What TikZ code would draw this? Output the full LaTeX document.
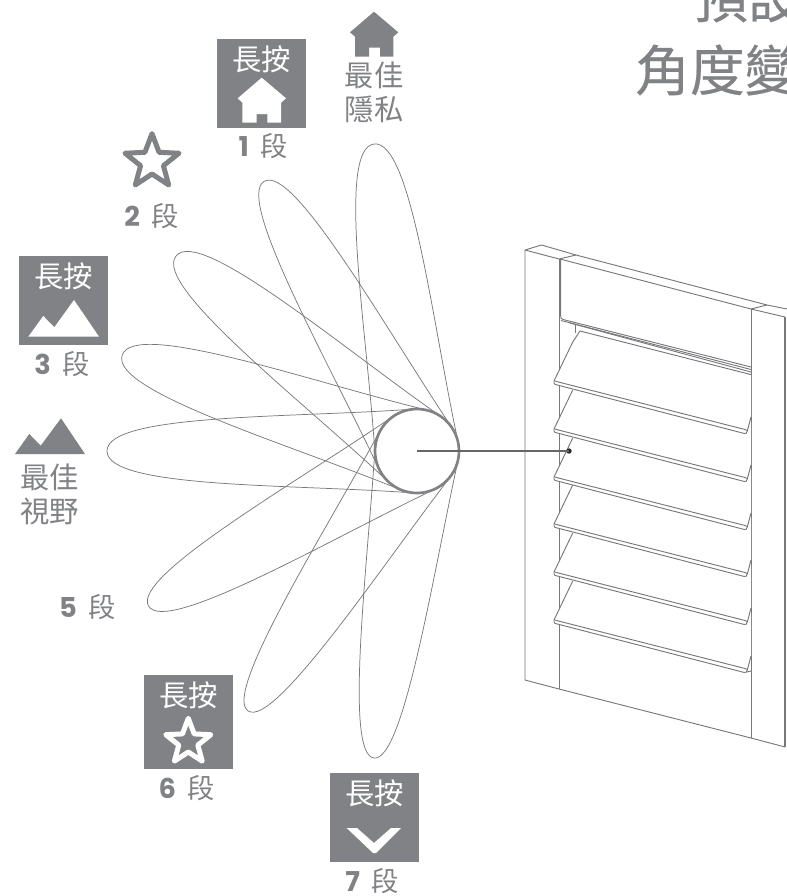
\documentclass[tikz,border=0pt]{standalone}
\usepackage{fontspec}
\setmainfont{Poppins}
\newfontfamily\cjk{Noto Sans CJK TC}
\newfontfamily\cjktitle[FakeBold=0.4]{Noto Sans CJK TC}
\definecolor{ink}{HTML}{808285}
\definecolor{wire}{HTML}{77787B}
\tikzset{
  x=0.75pt,y=-0.75pt,
  petal/.style={draw=wire,line width=0.55pt},
  frameline/.style={draw=wire,line width=0.7pt,line join=round},
  box/.style={fill=ink,draw=none},
  whiteicon/.style={fill=white,draw=none},
  grayicon/.style={fill=ink,draw=none},
  longtxt/.style={text=white,inner sep=0pt,font=\cjk\fontsize{22}{22}\selectfont},
  graytxt/.style={text=ink,inner sep=0pt,align=center,font=\cjk\fontsize{22}{25.5}\selectfont},
  segtxt/.style={text=ink,inner sep=0pt,anchor=base east,font=\fontsize{20.5}{20.5}\selectfont},
  titletxt/.style={text=ink,inner sep=0pt,anchor=west,font=\cjktitle\fontsize{41}{41}\selectfont}
}
\newcommand{\seglabel}[3]{\node[segtxt] (seg#1) at (#2,{#3+10}) {\textbf{#1}\hspace{0.42em}{\cjk\fontsize{20.5}{20.5}\selectfont 段}};}
\newcommand{\longbox}[5]{% name, x0, y0, x1, y1
  \fill[box] (#2,#3) rectangle (#4,#5);
  \node[longtxt] (#1) at ({(#2+#4)/2},{#3+20}) {長按};}
\newcommand{\louver}[1]{% y of left corner
  \fill[white] (554,#1) -- (580,{#1-50}) -- (751,{#1-6.4}) -- (751,{#1+36}) -- (747,{#1+51}) -- (744,{#1+52}) -- (555,{#1+3}) -- cycle;
  \draw[frameline] (572.7,{#1-39}) -- (554,#1) -- (554,{#1+2}) -- (555,{#1+3.4}) -- (744,{#1+52.4}) .. controls (746,{#1+53}) and (747,{#1+52}) .. (747.3,{#1+50}) -- (751,{#1+36});
  \draw[frameline] (554.5,#1) -- (745,{#1+48.5}) .. controls (746.5,{#1+49}) and (747.3,{#1+49.5}) .. (747.3,{#1+50});
}
\begin{document}
\begin{tikzpicture}
\useasboundingbox (0,0) rectangle (787,896);
\clip (0,0) rectangle (787,896);
% title
\node[titletxt] (t1) at (693,-3) {預設};
\node[titletxt] (t2) at (635,70) {角度變};
% petals
\foreach \a/\w in {82/38,60.5/34,39/38,18/38,0/38,-30/34,-57/31,-82/30}{
  \begin{scope}[shift={(417,451)},rotate=-\a]
    \draw[petal] (-3,-42) .. controls (-120,-33) and (-310,-\w) .. (-310,0)
                 .. controls (-310,\w) and (-120,33) .. (-3,42);
  \end{scope}
}
\node[circle,draw=ink,fill=white,line width=2pt,minimum size=63pt,inner sep=0pt] (hub) at (417,451) {};
% frame
\draw[frameline] (559,259) -- (525,250) -- (541.5,245) -- (576,255) -- (767,305) -- (787,309);
\draw[frameline] (525,250) -- (525,680) -- (559,689) -- (751,738) -- (785,747);
\draw[frameline] (559,259) -- (559,689);
\draw[frameline] (559,259) -- (576,255);
\draw[frameline] (560,259) -- (751,309) -- (785,317);
\draw[frameline] (751,309) -- (767,305);
\draw[frameline] (751,309) -- (751,738);
\draw[draw=wire,line width=1pt] (785,317) -- (785,747);
\draw[frameline] (560.7,259) -- (560.7,316) .. controls (560.7,318) and (561,319) .. (563,319.5) -- (751,367);
\draw[frameline] (561,320.5) -- (751,369.5);
\draw[frameline] (570,323) -- (751,372);
\draw[frameline] (575.7,324) -- (575.7,333);
\draw[frameline] (747,672) -- (751,671);
% louvers
\louver{620}
\louver{572}
\louver{524}
\louver{477}
\louver{429}
\louver{381}
\draw[frameline] (572.7,342) -- (580,331) -- (751,374.6);
% leader
\coordinate (dotc) at (569,451);
\coordinate (hubc) at (417,451);
\fill[black!85] (dotc) circle (2pt);
\draw[draw=black!60,line width=0.9pt] (hubc) -- (dotc);
% top house
\fill[grayicon] (374,11.7) -- (398.3,32.3) -- (393.3,36.7) -- (393.3,56.7) -- (380,56.7) -- (380,47.7) -- (369,47.7) -- (369,56.7) -- (355,56.7) -- (355,36.7) -- (350,32.3) -- cycle;
\node[graytxt] (best1) at (374,92.5) {最佳\\隱私};
% box 1
\longbox{l1}{217.3}{39.3}{306}{128}
\fill[whiteicon] (261.7,77.7) -- (286,98.3) -- (281,102.7) -- (281,122.7) -- (267.3,122.7) -- (267.3,114) -- (256.7,114) -- (256.7,122.7) -- (242.3,122.7) -- (242.3,102.7) -- (237.7,98.3) -- cycle;
\seglabel{1}{288}{146}
% star 2
\draw[draw=ink,line width=3.75pt,line join=round] ({152},{162-28.4})
  \foreach \i in {1,...,9}{ -- ({152+(mod(\i,2)==0 ? 28.4 : 12)*sin(36*\i)},{162-(mod(\i,2)==0 ? 28.4 : 12)*cos(36*\i)}) } -- cycle;
\seglabel{2}{179}{216}
% box 3
\longbox{l3}{19}{256}{108}{345}
\fill[whiteicon] (28.3,336.7) -- (43.3,316) -- (54.3,327.3) -- (74,300) -- (99,336.7) -- cycle;
\seglabel{3}{90}{364}
% mountain
\fill[grayicon] (15,454) -- (29.3,434) -- (40.7,445.7) -- (61,418.3) -- (85,454) -- cycle;
\node[graytxt] (best2) at (50,494.5) {最佳\\視野};
% 5
\seglabel{5}{116}{607}
% box 6
\longbox{l6}{144}{675}{233}{769}
\draw[draw=white,line width=3.75pt,line join=round] ({188.3},{742-23.7})
  \foreach \i in {1,...,9}{ -- ({188.3+(mod(\i,2)==0 ? 23.7 : 10)*sin(36*\i)},{742-(mod(\i,2)==0 ? 23.7 : 10)*cos(36*\i)}) } -- cycle;
\seglabel{6}{215}{788}
% box 7
\longbox{l7}{330}{773}{419}{862}
\fill[whiteicon] (346.7,828) -- (357,828) -- (374,843) -- (391,828) -- (401,828) -- (376,853) -- (373,853) -- cycle;
\seglabel{7}{399}{881}
\end{tikzpicture}
\end{document}
